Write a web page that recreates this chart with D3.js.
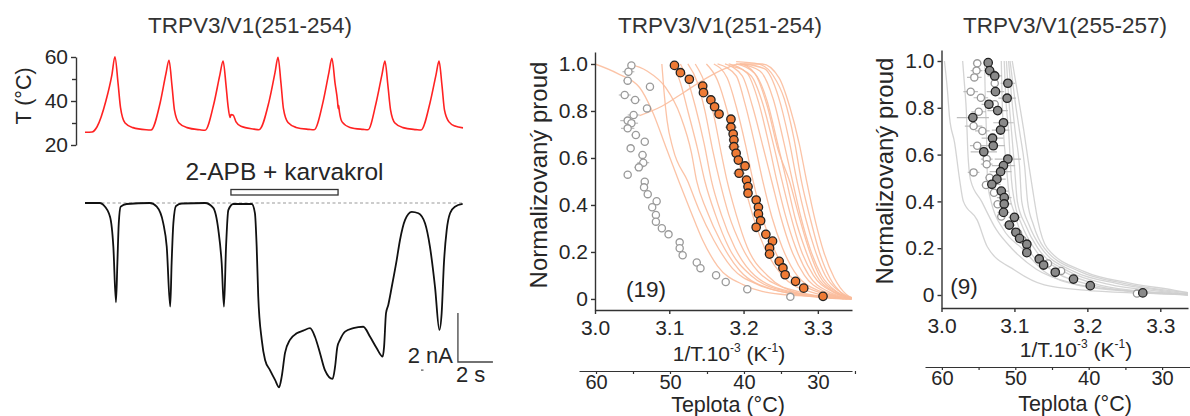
<!DOCTYPE html>
<html>
<head>
<meta charset="utf-8">
<script src="https://cdn.jsdelivr.net/npm/d3@7"></script>
<style>
  body { margin: 0; background: #fff; }
  svg { display: block; }
</style>
</head>
<body>
<svg id="fig" width="1190" height="416"></svg>
<script>
// ---------- Data ----------
// Panel A: temperature ramps [time s, °C]
const tempTrace = [
  [0.00,25.8],[0.40,25.9],[0.69,28.3],[1.20,40.2],[1.54,52.0],[1.71,60.1],[1.89,48.0],[2.03,37.0],[2.29,30.0],[2.74,27.9],[3.49,26.9],[3.77,26.8],
  [4.29,39.0],[4.63,52.6],[4.80,58.5],[4.97,47.0],[5.11,36.0],[5.37,30.0],[5.83,27.9],[6.57,26.9],[6.86,26.7],
  [7.37,39.0],[7.71,52.0],[7.89,58.2],[8.06,47.0],[8.17,38.0],[8.29,32.5],[8.34,33.8],[8.46,33.6],[8.63,30.5],[8.91,28.5],[9.66,27.2],[9.94,26.9],
  [10.51,39.5],[10.86,53.0],[11.03,59.9],[11.20,48.0],[11.34,36.5],[11.60,30.2],[12.06,28.0],[12.80,27.1],[13.09,26.9],
  [13.60,39.5],[13.94,53.0],[14.11,59.4],[14.29,48.0],[14.43,40.0],[14.47,36.5],[14.49,38.0],[14.54,35.0],[14.69,30.5],[15.14,28.0],[15.89,27.1],[16.17,26.9],
  [16.63,39.0],[16.97,52.0],[17.14,58.2],[17.31,47.0],[17.46,36.0],[17.71,30.0],[18.17,27.9],[18.91,27.0],[19.20,26.8],
  [19.71,39.0],[20.06,52.0],[20.23,58.2],[20.40,47.0],[20.54,36.0],[20.80,30.5],[21.14,28.6],[21.60,27.8]
];
// Panel A: membrane current [time s, nA]
const currentTrace = [
  [0.00,0.00],[0.86,0.00],[1.05,-0.08],[1.43,-0.56],[1.62,-1.78],[1.77,-4.05],[1.85,-2.45],[1.93,-0.82],[2.04,-0.15],[2.38,-0.04],[3.71,0.00],
  [4.10,-0.15],[4.47,-0.82],[4.67,-1.78],[4.87,-4.23],[4.95,-2.45],[5.05,-0.82],[5.20,-0.12],[5.54,-0.02],[6.86,0.00],
  [7.33,-0.20],[7.62,-1.10],[7.81,-2.45],[7.94,-4.23],[8.06,-1.78],[8.19,-0.29],[8.47,-0.04],[9.53,-0.04],
  [9.71,-0.41],[9.81,-1.78],[9.90,-3.82],[10.10,-5.59],[10.29,-6.41],[10.57,-6.82],[10.86,-7.22],[11.09,-7.52],[11.24,-7.09],[11.43,-6.12],
  [11.71,-5.59],[12.10,-5.32],[12.47,-5.21],[12.86,-5.11],[13.14,-5.46],[13.43,-6.13],[13.71,-6.82],[14.15,-7.18],[14.29,-6.68],[14.42,-5.87],
  [14.57,-5.59],[14.86,-5.25],[15.33,-5.11],[15.90,-5.05],[16.29,-5.46],[16.67,-5.93],[17.01,-6.27],[17.09,-5.87],[17.20,-4.50],[17.33,-4.16],
  [17.53,-3.42],[17.81,-2.33],[18.00,-1.51],[18.29,-0.69],[18.67,-0.36],[19.05,-0.42],[19.43,-0.83],[19.71,-1.78],[20.00,-3.42],[20.25,-5.18],
  [20.38,-4.50],[20.51,-2.46],[20.67,-1.10],[20.86,-0.42],[21.14,-0.15],[21.58,-0.04]
];
const drugWindow = [8.34, 14.46];          // 2-APB + karvakrol application, s
const scaleBarCorner = [21.31, -6.49];     // s, nA
const scaleBarSize = [2, 2];               // 2 s, 2 nA
const tempTicks = [20, 40, 60];
const tempMinorTicks = [30, 50];

// Panel B: TRPV3/V1(251-254), individual traces [1/T·10^3, I/Imax]
const tracesB = [
  [[3.000,1.00],[3.030,0.96],[3.060,0.90],[3.077,0.80],[3.095,0.65],[3.113,0.50],[3.128,0.38],[3.145,0.25],[3.165,0.14],[3.200,0.06],[3.250,0.02],[3.300,0.01],[3.340,0.00]],
  [[3.090,1.00],[3.093,0.88],[3.097,0.76],[3.105,0.64],[3.125,0.50],[3.140,0.38],[3.160,0.25],[3.185,0.13],[3.220,0.06],[3.270,0.02],[3.335,0.00]],
  [[3.045,1.00],[3.070,0.97],[3.095,0.90],[3.115,0.78],[3.130,0.62],[3.137,0.50],[3.150,0.38],[3.170,0.24],[3.195,0.12],[3.240,0.04],[3.300,0.01],[3.345,0.00]],
  [[3.105,1.00],[3.115,0.92],[3.125,0.80],[3.138,0.64],[3.148,0.50],[3.162,0.36],[3.180,0.22],[3.210,0.10],[3.260,0.03],[3.340,0.00]],
  [[3.115,1.00],[3.125,0.93],[3.135,0.82],[3.147,0.66],[3.157,0.50],[3.170,0.36],[3.188,0.22],[3.215,0.10],[3.265,0.03],[3.345,0.00]],
  [[3.125,1.00],[3.138,0.92],[3.148,0.80],[3.158,0.64],[3.168,0.50],[3.180,0.36],[3.198,0.22],[3.225,0.10],[3.275,0.03],[3.340,0.00]],
  [[3.135,1.00],[3.150,0.90],[3.160,0.78],[3.170,0.62],[3.178,0.50],[3.190,0.36],[3.205,0.22],[3.232,0.10],[3.280,0.02],[3.345,0.00]],
  [[3.150,1.00],[3.165,0.93],[3.178,0.80],[3.190,0.64],[3.200,0.50],[3.212,0.36],[3.228,0.22],[3.252,0.10],[3.290,0.03],[3.345,0.00]],
  [[3.160,1.00],[3.178,0.94],[3.190,0.82],[3.203,0.65],[3.213,0.50],[3.225,0.35],[3.240,0.22],[3.262,0.10],[3.300,0.03],[3.345,0.00]],
  [[3.165,1.00],[3.190,0.95],[3.202,0.83],[3.215,0.66],[3.226,0.50],[3.238,0.35],[3.252,0.22],[3.272,0.10],[3.305,0.03],[3.345,0.00]],
  [[3.175,1.00],[3.198,0.95],[3.212,0.82],[3.226,0.65],[3.238,0.50],[3.250,0.35],[3.263,0.22],[3.282,0.10],[3.310,0.03],[3.345,0.00]],
  [[3.180,1.00],[3.205,0.96],[3.220,0.84],[3.234,0.66],[3.245,0.50],[3.256,0.36],[3.270,0.22],[3.288,0.10],[3.315,0.03],[3.348,0.00]],
  [[3.185,0.99],[3.210,0.95],[3.226,0.83],[3.240,0.66],[3.252,0.50],[3.263,0.36],[3.276,0.22],[3.294,0.10],[3.320,0.03],[3.348,0.00]],
  [[3.190,1.00],[3.215,0.96],[3.232,0.84],[3.246,0.66],[3.258,0.50],[3.269,0.35],[3.282,0.22],[3.298,0.10],[3.322,0.03],[3.348,0.00]],
  [[3.060,0.78],[3.090,0.82],[3.120,0.88],[3.150,0.94],[3.175,0.98],[3.195,1.00],[3.215,0.96],[3.232,0.82],[3.246,0.64],[3.262,0.50],[3.274,0.36],[3.287,0.22],[3.302,0.10],[3.325,0.03],[3.348,0.00]],
  [[3.195,1.00],[3.222,0.97],[3.240,0.85],[3.254,0.67],[3.266,0.50],[3.277,0.35],[3.290,0.21],[3.305,0.10],[3.326,0.03],[3.350,0.00]],
  [[3.200,1.00],[3.228,0.98],[3.247,0.86],[3.261,0.68],[3.272,0.50],[3.283,0.35],[3.296,0.21],[3.310,0.10],[3.330,0.03],[3.350,0.00]],
  [[3.190,1.01],[3.220,1.00],[3.240,0.95],[3.255,0.85],[3.268,0.68],[3.278,0.50],[3.290,0.34],[3.302,0.20],[3.316,0.09],[3.334,0.02],[3.350,0.00]],
  [[3.195,1.00],[3.225,1.00],[3.248,0.94],[3.262,0.82],[3.275,0.66],[3.285,0.50],[3.296,0.34],[3.308,0.20],[3.322,0.09],[3.338,0.02],[3.350,0.00]]
];
// Panel B: averaged heat activation (filled) and reference (open)
const meanB = [
  [3.107,0.994],[3.115,0.963],[3.127,0.935],[3.145,0.906],[3.146,0.878],[3.156,0.847],[3.161,0.818],[3.167,0.787],[3.183,0.765],[3.183,0.731],
  [3.186,0.702],[3.187,0.677],[3.187,0.648],[3.190,0.620],[3.193,0.591],[3.202,0.566],[3.194,0.535],[3.204,0.506],[3.206,0.478],[3.206,0.450],
  [3.217,0.421],[3.220,0.390],[3.220,0.362],[3.223,0.333],[3.217,0.305],[3.230,0.275],[3.239,0.246],[3.235,0.217],[3.235,0.191],[3.248,0.160],
  [3.253,0.132],[3.256,0.103],[3.270,0.075],[3.281,0.046],[3.307,0.011]
];
const meanBErr = [0,0,0,0,0,0,0,0,0.006,0.008,0.006,0.007,0.008,0.006,0.006,0.006,0.008,0.006,0.006,0.005,0.005,0.006,0.005,0.005,0.005,0.006,0.005,0.005,0.004,0.004,0.004,0.003,0.003,0.003,0.002];
const refB = [
  [3.049,0.994],[3.045,0.967],[3.044,0.929],[3.074,0.903],[3.040,0.868],[3.054,0.847],[3.070,0.811],[3.052,0.783],[3.044,0.759],[3.049,0.748],
  [3.044,0.726],[3.055,0.698],[3.067,0.669],[3.048,0.641],[3.064,0.613],[3.065,0.580],[3.059,0.560],[3.044,0.529],[3.067,0.499],[3.066,0.475],
  [3.071,0.446],[3.083,0.416],[3.077,0.390],[3.082,0.357],[3.082,0.329],[3.090,0.301],[3.099,0.275],[3.114,0.241],[3.114,0.216],[3.118,0.186],
  [3.137,0.155],[3.142,0.131],[3.163,0.101],[3.176,0.072],[3.205,0.041],[3.263,0.009]
];
const refBErr = [0.004,0.008,0.006,0,0.008,0.007,0,0.008,0.010,0.009,0.009,0.006,0,0.005,0.006,0.008,0.006,0.004,0.005,0.004,0.004,0.004,0.004,0.003,0.003,0.003,0.003,0.003,0.003,0.003,0.002,0.002,0.002,0.002,0.002,0.002];

// Panel C: TRPV3/V1(255-257)
const tracesC = [
  [[3.004,1.00],[3.008,0.88],[3.011,0.76],[3.018,0.65],[3.025,0.49],[3.030,0.40],[3.049,0.32],[3.063,0.205],[3.100,0.107],[3.141,0.043],[3.196,0.021],[3.264,0.009],[3.338,0.003]],
  [[3.029,1.00],[3.032,0.88],[3.034,0.79],[3.036,0.62],[3.040,0.49],[3.055,0.40],[3.075,0.28],[3.096,0.20],[3.130,0.11],[3.180,0.05],[3.250,0.02],[3.338,0.005]],
  [[3.059,1.00],[3.060,0.85],[3.062,0.65],[3.063,0.49],[3.068,0.40],[3.085,0.28],[3.110,0.20],[3.141,0.10],[3.190,0.04],[3.260,0.015],[3.338,0.003]],
  [[3.082,1.00],[3.083,0.85],[3.085,0.70],[3.089,0.55],[3.092,0.45],[3.100,0.35],[3.118,0.20],[3.155,0.10],[3.210,0.04],[3.280,0.01],[3.338,0.00]],
  [[3.086,1.00],[3.088,0.85],[3.092,0.70],[3.096,0.49],[3.100,0.40],[3.110,0.30],[3.127,0.20],[3.168,0.10],[3.220,0.04],[3.290,0.012],[3.338,0.00]],
  [[3.089,1.00],[3.092,0.85],[3.096,0.70],[3.100,0.55],[3.104,0.40],[3.115,0.30],[3.132,0.20],[3.175,0.10],[3.230,0.045],[3.300,0.015],[3.338,0.00]],
  [[3.092,1.00],[3.096,0.85],[3.101,0.70],[3.107,0.55],[3.110,0.40],[3.120,0.30],[3.137,0.20],[3.182,0.10],[3.240,0.05],[3.300,0.02],[3.338,0.005]],
  [[3.094,1.00],[3.100,0.85],[3.107,0.70],[3.114,0.55],[3.118,0.40],[3.126,0.30],[3.141,0.20],[3.190,0.10],[3.250,0.05],[3.310,0.02],[3.338,0.01]],
  [[3.097,1.00],[3.105,0.85],[3.113,0.70],[3.120,0.55],[3.125,0.45],[3.132,0.32],[3.145,0.20],[3.196,0.10],[3.260,0.05],[3.320,0.02],[3.338,0.01]]
];
const meanC = [
  [3.064,0.993],[3.066,0.959],[3.073,0.936],[3.091,0.905],[3.074,0.869],[3.090,0.841],[3.065,0.815],[3.077,0.788],[3.043,0.758],[3.085,0.736],
  [3.081,0.705],[3.070,0.670],[3.071,0.638],[3.058,0.612],[3.091,0.581],[3.085,0.553],[3.081,0.527],[3.076,0.495],[3.069,0.473],[3.082,0.444],
  [3.086,0.416],[3.086,0.389],[3.085,0.353],[3.100,0.332],[3.093,0.299],[3.102,0.268],[3.107,0.242],[3.117,0.217],[3.117,0.181],[3.134,0.154],
  [3.140,0.128],[3.156,0.097],[3.181,0.068],[3.204,0.040],[3.276,0.009]
];
const meanCErr = [0.006,0.008,0.010,0.010,0.012,0.012,0.010,0.014,0.022,0.014,0.012,0.015,0.016,0.018,0.018,0.016,0.015,0.012,0.012,0.010,0.010,0.010,0.008,0.008,0.008,0.007,0.006,0.006,0.005,0.005,0.005,0.004,0.004,0.004,0.003];
const refC = [
  [3.049,0.990],[3.048,0.959],[3.045,0.930],[3.073,0.905],[3.040,0.869],[3.054,0.843],[3.073,0.815],[3.051,0.783],[3.044,0.722],[3.056,0.701],
  [3.049,0.638],[3.062,0.581],[3.062,0.559],[3.044,0.524],[3.066,0.501],[3.061,0.470],[3.072,0.437],[3.077,0.388],[3.082,0.335],[3.093,0.299],
  [3.105,0.264],[3.111,0.235],[3.117,0.200],[3.146,0.135],[3.164,0.103],[3.268,0.006]
];
const refCErr = [0.006,0.008,0.010,0,0.010,0.010,0,0.010,0.012,0.010,0.010,0.008,0.008,0.008,0.006,0.006,0.006,0.006,0.005,0.005,0.004,0.004,0.004,0.004,0.004,0.003];

const yTicks = [0, 0.2, 0.4, 0.6, 0.8, 1.0];
const xTicks = [3.0, 3.1, 3.2, 3.3];
const celsiusTicks = [60, 55, 50, 45, 40, 35, 30, 25];
const celsiusLabels = [60, 50, 40, 30];

// ---------- Drawing ----------
const FONT = '"Liberation Sans", Arial, Helvetica, sans-serif';
const INK = "#262626";
const svg = d3.select("#fig");

function styleAxis(g, size) {
  g.attr("font-family", FONT).attr("font-size", size || 21);
  g.selectAll("path, line").attr("stroke", "#333").attr("stroke-width", 1.4);
  g.selectAll("text").attr("fill", INK);
}
function label(x, y, txt, size, rotate, fill) {
  const t = svg.append("text")
    .attr("font-family", FONT).attr("font-size", size)
    .attr("fill", fill || INK).attr("text-anchor", "middle")
    .attr("transform", `translate(${x},${y})` + (rotate ? " rotate(-90)" : ""))
    .text(txt);
  return t;
}
function invTLabel(x, y) {
  const t = svg.append("text").attr("font-family", FONT).attr("font-size", 21)
    .attr("fill", INK).attr("text-anchor", "middle").attr("x", x).attr("y", y);
  t.append("tspan").text("1/T.10");
  t.append("tspan").attr("dy", -9).attr("font-size", 12).text("-3");
  t.append("tspan").attr("dy", 9).text(" (K");
  t.append("tspan").attr("dy", -9).attr("font-size", 12).text("-1");
  t.append("tspan").attr("dy", 9).text(")");
}

// ===== Panel A =====
const tX = d3.scaleLinear().domain([0, 21.6]).range([85, 463]);
const tempY = d3.scaleLinear().domain([20, 60]).range([145, 57]);
const curY = d3.scaleLinear().domain([0, -2]).range([203, 252]);

label(250, 33, "TRPV3/V1(251-254)", 22.5, false, "#333");

const tAxis = svg.append("g").attr("transform", "translate(76,0)")
  .call(d3.axisLeft(tempY).tickValues(tempTicks).tickSize(5).tickPadding(3).tickSizeOuter(0));
styleAxis(tAxis, 21);
const tAxisMinor = svg.append("g").attr("transform", "translate(76,0)")
  .call(d3.axisLeft(tempY).tickValues(tempMinorTicks).tickSize(4).tickFormat("").tickSizeOuter(0));
styleAxis(tAxisMinor);
tAxisMinor.select(".domain").remove();
label(31, 96, "T (°C)", 21.5, true);

svg.append("path").datum(tempTrace)
  .attr("fill", "none").attr("stroke", "#ff2222").attr("stroke-width", 1.6)
  .attr("stroke-linejoin", "round")
  .attr("d", d3.line().x(d => tX(d[0])).y(d => tempY(d[1])).curve(d3.curveMonotoneX));

// drug application
label((tX(drugWindow[0]) + tX(drugWindow[1])) / 2, 180, "2-APB + karvakrol", 24.5);
svg.append("rect")
  .attr("x", tX(drugWindow[0])).attr("y", 189.5)
  .attr("width", tX(drugWindow[1]) - tX(drugWindow[0])).attr("height", 5.5)
  .attr("fill", "#fff").attr("stroke", "#333").attr("stroke-width", 1.3);

// zero-current reference
svg.append("line")
  .attr("x1", tX(0)).attr("x2", tX(21.6)).attr("y1", curY(0)).attr("y2", curY(0))
  .attr("stroke", "#9a9a9a").attr("stroke-width", 1.1).attr("stroke-dasharray", "3,2.5");

svg.append("path").datum(currentTrace)
  .attr("fill", "none").attr("stroke", "#111").attr("stroke-width", 1.8)
  .attr("stroke-linejoin", "round")
  .attr("d", d3.line().x(d => tX(d[0])).y(d => curY(d[1])).curve(d3.curveMonotoneX));

// scale bar
const sbx = tX(scaleBarCorner[0]), sby = curY(scaleBarCorner[1]);
svg.append("path")
  .attr("d", `M${sbx},${curY(scaleBarCorner[1] + scaleBarSize[1])}V${sby}H${tX(scaleBarCorner[0] + scaleBarSize[0])}`)
  .attr("fill", "none").attr("stroke", "#444").attr("stroke-width", 1.3);
svg.append("text").attr("font-family", FONT).attr("font-size", 22).attr("fill", INK)
  .attr("text-anchor", "end").attr("x", sbx - 5).attr("y", sby + 1).text("2 nA");
svg.append("text").attr("font-family", FONT).attr("font-size", 22).attr("fill", INK)
  .attr("x", sbx - 2).attr("y", sby + 20).text("2 s");
svg.append("rect").attr("x", 421).attr("y", 369.5).attr("width", 2.5).attr("height", 1.2).attr("fill", "#555");

// ===== Correlation panels =====
function correlationPanel(cfg) {
  const x = d3.scaleLinear().domain(cfg.xDomain).range(cfg.xRange);
  const y = d3.scaleLinear().domain(cfg.yDomain).range(cfg.yRange);

  label(cfg.titleX, 33, cfg.title, 22.5, false, "#333");

  const clipId = cfg.id + "-clip";
  svg.append("clipPath").attr("id", clipId).append("rect")
    .attr("x", cfg.xRange[0]).attr("y", cfg.yRange[1])
    .attr("width", cfg.xRange[1] - cfg.xRange[0]).attr("height", cfg.yRange[0] - cfg.yRange[1]);
  const plot = svg.append("g").attr("clip-path", `url(#${clipId})`);

  const line = d3.line().x(d => x(d[0])).y(d => y(d[1])).curve(d3.curveMonotoneX);
  plot.selectAll("path.trace").data(cfg.traces).join("path").attr("class", "trace")
    .attr("fill", "none").attr("stroke", cfg.traceColor).attr("stroke-width", 1.3)
    .attr("stroke-opacity", 0.9).attr("d", line);

  const bars = [];
  cfg.ref.forEach((d, i) => { if (cfg.refErr[i] > 0) bars.push([d, cfg.refErr[i]]); });
  cfg.mean.forEach((d, i) => { if (cfg.meanErr[i] > 0) bars.push([d, cfg.meanErr[i]]); });
  plot.selectAll("line.err").data(bars).join("line").attr("class", "err")
    .attr("x1", d => x(d[0][0] - d[1])).attr("x2", d => x(d[0][0] + d[1]))
    .attr("y1", d => y(d[0][1])).attr("y2", d => y(d[0][1]))
    .attr("stroke", "#bdbdbd").attr("stroke-width", 1.2);

  plot.selectAll("circle.ref").data(cfg.ref).join("circle").attr("class", "ref")
    .attr("cx", d => x(d[0])).attr("cy", d => y(d[1])).attr("r", 3.6)
    .attr("fill", "#fff").attr("stroke", "#9a9a9a").attr("stroke-width", 1.3);
  plot.selectAll("circle.mean").data(cfg.mean).join("circle").attr("class", "mean")
    .attr("cx", d => x(d[0])).attr("cy", d => y(d[1])).attr("r", 4.2)
    .attr("fill", cfg.meanFill).attr("stroke", "#222").attr("stroke-width", 1.3);

  const ya = svg.append("g").attr("transform", `translate(${cfg.xRange[0]},0)`)
    .call(d3.axisLeft(y).tickValues(yTicks).tickSize(4).tickPadding(3).tickSizeOuter(0)
      .tickFormat(d => d === 0 ? "0" : d3.format(".1f")(d)));
  styleAxis(ya, 21);
  const xa = svg.append("g").attr("transform", `translate(0,${cfg.yRange[0]})`)
    .call(d3.axisBottom(x).tickValues(xTicks).tickSize(4).tickPadding(6).tickSizeOuter(0)
      .tickFormat(d3.format(".1f")));
  styleAxis(xa, 21);

  label(cfg.yLabelX, cfg.yLabelY, "Normalizovaný proud", 24, true);
  label(cfg.countX, cfg.countY, cfg.count, 22.5);
  invTLabel(cfg.xLabelX, cfg.xLabelY);

  // temperature scale
  const c = d3.scaleLinear().domain(cfg.cDomain).range(cfg.cRange);
  const ca = svg.append("g").attr("transform", `translate(0,${cfg.cY})`)
    .call(d3.axisBottom(c).tickValues(celsiusTicks).tickSize(3).tickPadding(cfg.cPad).tickSizeOuter(0)
      .tickFormat(d => celsiusLabels.includes(d) ? d : ""));
  styleAxis(ca, 20);
  ca.selectAll("path, line").attr("stroke-width", 1.2);
  label(cfg.xLabelX - 1, cfg.cLabelY, "Teplota (°C)", 21.5);
}

correlationPanel({
  id: "b", title: "TRPV3/V1(251-254)", titleX: 720,
  xDomain: [3.0, 3.346], xRange: [595, 852],
  yDomain: [-0.047, 1.051], yRange: [310, 52],
  traces: tracesB, traceColor: "#fbbd9c",
  mean: meanB, meanErr: meanBErr, meanFill: "#ef7b35",
  ref: refB, refErr: refBErr,
  yLabelX: 547, yLabelY: 175, count: "(19)", countX: 646, countY: 297,
  xLabelX: 729, xLabelY: 361,
  cDomain: [62.3, 25.4], cRange: [579, 852], cY: 371, cPad: 1, cLabelY: 412
});

correlationPanel({
  id: "c", title: "TRPV3/V1(255-257)", titleX: 1065,
  xDomain: [3.0, 3.338], xRange: [941.5, 1188],
  yDomain: [-0.0556, 1.047], yRange: [308, 50],
  traces: tracesC, traceColor: "#cfcfcf",
  mean: meanC, meanErr: meanCErr, meanFill: "#8a8a8a",
  ref: refC, refErr: refCErr,
  yLabelX: 893, yLabelY: 171, count: "(9)", countX: 964, countY: 294,
  xLabelX: 1076, xLabelY: 357,
  cDomain: [62.3, 26.2], cRange: [925, 1190], cY: 367, cPad: 1, cLabelY: 411
});
</script>
</body>
</html>
